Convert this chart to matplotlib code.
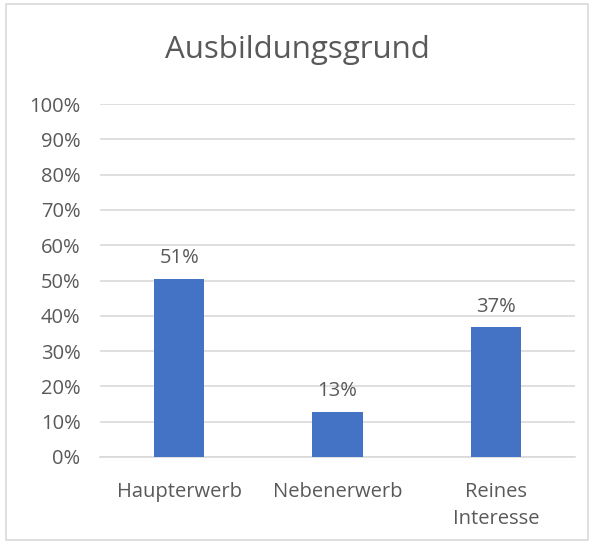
import matplotlib
matplotlib.use('Agg')
import matplotlib.pyplot as plt
from matplotlib.patches import Rectangle

CATEGORIES = ['Haupterwerb', 'Nebenerwerb', 'Reines\nInteresse']
SHARES = [0.505, 0.128, 0.367]
LABELS = ['51%', '13%', '37%']
YTICKS = [i / 10 for i in range(11)]

TXT = '#595959'
BLUE = '#4472C4'
GRID = '#D9D9D9'

plt.rcParams.update({'font.family': ['Open Sans', 'DejaVu Sans'], 'font.size': 15})

fig = plt.figure(figsize=(5.94, 5.44), dpi=100)
fig.patches.append(Rectangle((6 / 594, 4 / 544), 582 / 594, 536 / 544,
                             transform=fig.transFigure, fill=False,
                             edgecolor=GRID, linewidth=1.2))
ax = fig.add_axes([100 / 594, 1 - 457 / 544, 475 / 594, 353 / 544])

x = range(len(CATEGORIES))
ax.bar(x, SHARES, width=0.316, color=BLUE, zorder=3)
for xi, v, lab in zip(x, SHARES, LABELS):
    ax.text(xi, v + 0.03, lab, ha='center', va='bottom', color=TXT, fontsize=14.5)

ax.set_xlim(-0.5, 2.5)
ax.set_ylim(0, 1)
ax.set_yticks(YTICKS)
ax.set_yticklabels([f'{int(round(t * 100))}%' for t in YTICKS])
ax.set_xticks(list(x))
ax.set_xticklabels(CATEGORIES, linespacing=1.45)
ax.grid(axis='y', color=GRID, linewidth=1.2, zorder=0)
for s in ['top', 'right', 'left']:
    ax.spines[s].set_visible(False)
ax.spines['bottom'].set_color(GRID)
ax.spines['bottom'].set_linewidth(1.2)
ax.tick_params(length=0, colors=TXT, labelsize=14.5)
ax.tick_params(axis='y', pad=14)
ax.tick_params(axis='x', pad=18)
ax.set_axisbelow(True)

fig.text(0.5, 1 - 50 / 544, 'Ausbildungsgrund', ha='center', va='center',
         fontsize=22.5, color=TXT)

fig.savefig('out.png', dpi=100, facecolor='white')
